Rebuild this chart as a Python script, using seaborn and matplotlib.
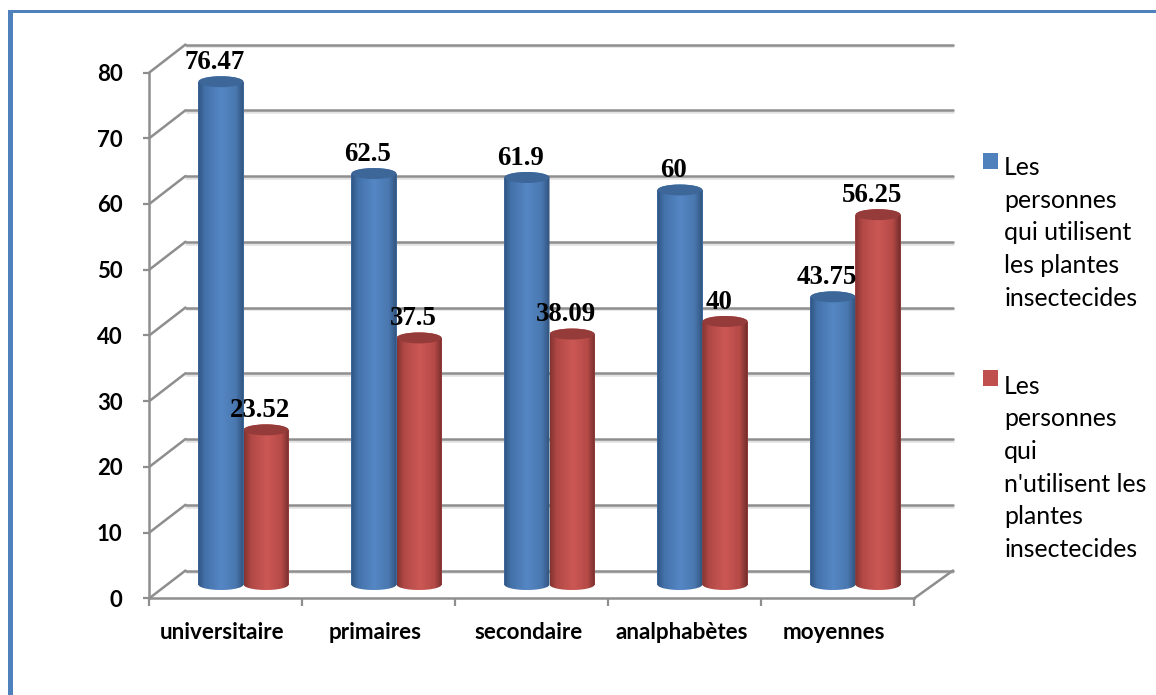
import numpy as np
import pandas as pd
import matplotlib
matplotlib.use("Agg")
import matplotlib.pyplot as plt
import matplotlib.patheffects as pe
from matplotlib.colors import LinearSegmentedColormap
from matplotlib.patches import ConnectionPatch, Ellipse, Polygon, Rectangle
from matplotlib.transforms import ScaledTranslation
import seaborn as sns

# Survey results by education level (percent)
categories = ["universitaire", "primaires", "secondaire", "analphabètes", "moyennes"]
users = [76.47, 62.5, 61.9, 60, 43.75]
non_users = [23.52, 37.5, 38.09, 40, 56.25]
series_names = [
    "Les\npersonnes\nqui utilisent\nles plantes\ninsectecides",
    "Les\npersonnes\nqui\nn'utilisent les\nplantes\ninsectecides",
]
y_ticks = [0, 10, 20, 30, 40, 50, 60, 70, 80]

W, H = 1156, 695
BLUE, RED = "#4f81bd", "#c0504d"
GRID = "#8e8e8e"
SANS = "Lato"

sns.set_theme(style="white")
plt.rcParams["font.family"] = SANS

fig = plt.figure(figsize=(W / 100, H / 100), dpi=100, facecolor="white")


def px_axes(x0, x1, y_top, y_bottom, zorder):
    """Axes placed by pixel bounds, top-left origin, transparent."""
    ax = fig.add_axes([x0 / W, (H - y_bottom) / H, (x1 - x0) / W, (y_bottom - y_top) / H])
    ax.patch.set_alpha(0)
    ax.set_zorder(zorder)
    ax.set_xlim(-0.5, 4.5)
    ax.set_ylim(0, 80)
    return ax


# Page border on the top and left
fig.add_artist(Rectangle((8 / W, 0), 5 / W, (H - 10) / H, transform=fig.transFigure, color=BLUE, lw=0))
fig.add_artist(Rectangle((8 / W, (H - 13) / H), (W - 8) / W, 3 / H, transform=fig.transFigure, color=BLUE, lw=0))

# Three parallel planes fake the 3D box: back wall, front axes, bar plane
back = px_axes(185.5, 953, 44.5, 570.5, 1)
front = px_axes(149.3, 914.3, 72.5, 598.3, 2)
bars = px_axes(167, 932, 58.5, 584.5, 3)

# Back wall gridlines with a soft lower edge
back.axis("off")
for v in y_ticks:
    back.axhline(
        v, color=GRID, lw=1.8, clip_on=False,
        path_effects=[pe.SimpleLineShadow(offset=(0, -1.4), shadow_color="#c4c4c4", alpha=0.5), pe.Normal()],
    )

# Floor and wall edges joining the front axes to the back wall
for v in y_ticks:
    fig.add_artist(ConnectionPatch((-0.5, v), (-0.5, v), coordsA=front.transData, coordsB=back.transData,
                                   color=GRID, lw=1.8, zorder=1.5))
fig.add_artist(ConnectionPatch((4.5, 0), (4.5, 0), coordsA=front.transData, coordsB=back.transData,
                               color=GRID, lw=1.8, zorder=1.5))

# Front axes: ticks sit on category boundaries, labels on category centres
for side in ("top", "right"):
    front.spines[side].set_visible(False)
for side in ("left", "bottom"):
    front.spines[side].set_color(GRID)
    front.spines[side].set_linewidth(1.8)
front.set_yticks(y_ticks)
front.set_xticks(np.arange(-0.5, 5, 1))
front.set_xticklabels([])
front.set_xticks(range(5), categories, minor=True)
front.tick_params(axis="x", which="major", bottom=True, length=5.8, width=1.6, color=GRID)
front.tick_params(axis="x", which="minor", bottom=False, length=0, pad=17, labelsize=16.1)
front.tick_params(axis="y", left=True, length=4.3, width=1.6, color=GRID, pad=15, labelsize=16, labelcolor="black")
for lab in front.get_xticklabels(minor=True):
    lab.set_fontweight("bold")
    lab.set_color("black")
    lab.set_transform(lab.get_transform() + ScaledTranslation(-3.5 / 100, 0, fig.dpi_scale_trans))
for lab in front.get_yticklabels():
    lab.set_fontweight("bold")

# Bars
frame = pd.DataFrame({
    "category": categories * 2,
    "value": users + non_users,
    "series": [series_names[0]] * 5 + [series_names[1]] * 5,
})
sns.barplot(
    data=frame, x="category", y="value", hue="series", order=categories,
    hue_order=series_names, palette=[BLUE, RED], width=0.59, gap=0, saturation=1,
    ax=bars, legend=True, linewidth=0,
)
bars.set_xlim(-0.5, 4.5)
bars.set_ylim(0, 80)
handles, labels = bars.get_legend_handles_labels()
bars.get_legend().remove()
bars.axis("off")

shades = [
    LinearSegmentedColormap.from_list("b", [(0, "#2f5481"), (0.15, "#4371a9"), (0.5, "#5587c5"),
                                            (0.82, "#4a78b0"), (1, "#30527c")]),
    LinearSegmentedColormap.from_list("r", [(0, "#843331"), (0.15, "#b04845"), (0.5, "#cc5855"),
                                            (0.82, "#b54a47"), (1, "#6f2b2a")]),
]
cap_fill = ["#3c6798", "#953b39"]
CAP_H = 11 / 6.575
gradient = np.linspace(0, 1, 128)[None, :]

# One container per series: blue bars first, red on top of them
for s, container in enumerate(bars.containers):
    for k, patch in enumerate(container):
        xl, w, val = patch.get_x(), patch.get_width(), patch.get_height()
        xc = xl + w / 2
        z = 5 + s + k * 0.01
        th = np.linspace(np.pi, 2 * np.pi, 40)
        bottom_arc = np.c_[xc + w / 2 * np.cos(th), CAP_H / 2 * np.sin(th)]
        top_arc = np.c_[xc + w / 2 * np.cos(th[::-1]), val - CAP_H / 2 * np.sin(th[::-1])]
        outline = Polygon(np.vstack([bottom_arc, top_arc]), closed=True, transform=bars.transData,
                          facecolor="none", edgecolor="none")
        bars.add_patch(outline)
        im = bars.imshow(gradient, extent=(xl, xl + w, -CAP_H, val + CAP_H), aspect="auto",
                         cmap=shades[s], zorder=z)
        im.set_clip_path(outline)
        im.set_clip_box(fig.bbox)
        bars.add_patch(Ellipse((xc, val), w * 0.98, CAP_H, facecolor=cap_fill[s], edgecolor="none",
                               zorder=z + 0.001, clip_on=False))
        bars.annotate(
            f"{val:g}", (xc, val), xytext=(-4.5, 14.0), textcoords="offset points",
            ha="center", va="center", fontsize=19.4, fontweight="bold", color="black",
            family="Liberation Serif", zorder=20, annotation_clip=False,
        )
bars.set_xlim(-0.5, 4.5)
bars.set_ylim(0, 80)

# Legend, with each swatch lifted level with the first line of its label
LINE_PX = 32.75
FONT_PT = 17.9
leg = fig.legend(
    handles, labels, loc="upper left", bbox_to_anchor=(983 / W, 1 - 156 / H), frameon=False,
    fontsize=FONT_PT, handlelength=0.61, handleheight=0.61, handletextpad=0.24,
    labelspacing=2.6, borderpad=0, borderaxespad=0,
)
leg.set_zorder(30)
for text, handle in zip(leg.get_texts(), leg.legend_handles):
    text.set_linespacing(1.512)
    text.set_color("black")
    extra = text.get_text().count("\n")
    handle.set_y(handle.get_y() + extra * LINE_PX / 2.5)

fig.savefig("out.png", dpi=100, facecolor="white")
